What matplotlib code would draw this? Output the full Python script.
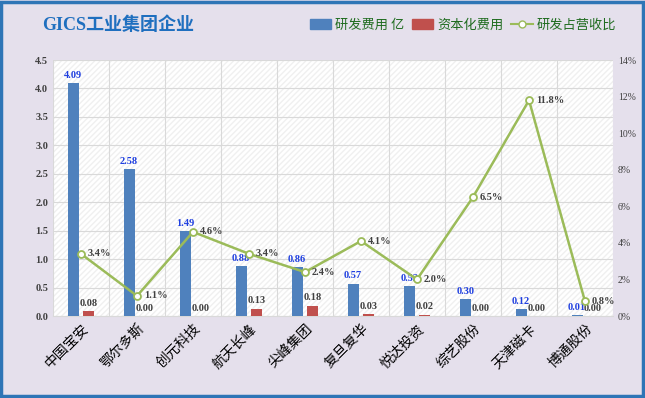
import numpy as np
import matplotlib.pyplot as plt
from matplotlib.patches import Rectangle
from matplotlib.lines import Line2D

plt.rcParams['font.family'] = ['Liberation Serif', 'Noto Sans CJK SC', 'DejaVu Sans']

companies = ['中国宝安', '鄂尔多斯', '创元科技', '航天长峰', '尖峰集团',
             '复旦复华', '悦达投资', '综艺股份', '天津磁卡', '博通股份']
rd_cost = [4.09, 2.58, 1.49, 0.88, 0.86, 0.57, 0.52, 0.30, 0.12, 0.01]
cap_cost = [0.08, 0.00, 0.00, 0.13, 0.18, 0.03, 0.02, 0.00, 0.00, 0.00]
rd_ratio = [3.4, 1.1, 4.6, 3.4, 2.4, 4.1, 2.0, 6.5, 11.8, 0.8]

BLUE = '#4F81BD'
RED = '#C0504D'
GREEN = '#9BBB59'
BG = '#E5E0EC'

fig = plt.figure(figsize=(6.45, 3.98), dpi=100, facecolor=BG)
fig.patches.append(Rectangle((0.002, 0.004), 0.995, 0.99, transform=fig.transFigure,
                             fill=False, edgecolor='#2E75B6', linewidth=2.5))

ax = fig.add_axes([53 / 645, 1 - 316 / 398, 560 / 645, 256 / 398])
ax.set_facecolor('white')
# faint diagonal hatch on the plot area
ax.add_patch(Rectangle((0, 0), 1, 1, transform=ax.transAxes, facecolor='none',
                       edgecolor='#F0F0F0', hatch='//////', linewidth=0, zorder=0))

x = np.arange(len(companies))
w = 0.2
ax.bar(x - 0.14, rd_cost, w, color=BLUE, zorder=3)
ax.bar(x + 0.14, cap_cost, w, color=RED, zorder=3)

for i in range(len(x)):
    ax.text(x[i] - 0.14, rd_cost[i] + 0.06, f'{rd_cost[i]:.2f}', ha='center', va='bottom',
            color='#1F3FE0', fontsize=7.5, fontweight='bold', zorder=5)
    ax.text(x[i] + 0.14, cap_cost[i] + 0.06, f'{cap_cost[i]:.2f}', ha='center', va='bottom',
            color='#404040', fontsize=7.5, fontweight='bold', zorder=5)

ax.set_xlim(-0.5, len(companies) - 0.5)
ax.set_ylim(0, 4.5)
ax.set_yticks(np.arange(0, 4.51, 0.5))
ax.set_yticklabels([f'{v:.1f}' for v in np.arange(0, 4.51, 0.5)])
ax.set_xticks(x)
ax.set_xticklabels(companies, rotation=45, ha='right', rotation_mode='anchor',
                   family=['Noto Sans CJK SC'], fontsize=10, color='black')
ax.set_xticks(np.arange(-0.5, len(companies), 1), minor=True)
ax.grid(axis='y', color='#D9D9D9', linewidth=0.8, zorder=1)
ax.grid(axis='x', which='minor', color='#D9D9D9', linewidth=0.8, zorder=1)
ax.tick_params(axis='y', length=0, labelsize=7.5, colors='#404040')
ax.tick_params(axis='x', length=0, pad=4)
ax.tick_params(axis='x', which='minor', length=0)
for lbl in ax.get_yticklabels():
    lbl.set_fontweight('bold')
for s in ax.spines.values():
    s.set_visible(False)
ax.spines['bottom'].set_visible(True)
ax.spines['bottom'].set_color('#D9D9D9')

ax2 = ax.twinx()
ax2.plot(x, rd_ratio, color=GREEN, linewidth=1.8, marker='o', markersize=5,
         markerfacecolor='white', markeredgecolor=GREEN, markeredgewidth=1.3, zorder=4)
for i in range(len(x)):
    ax2.text(x[i] + 0.12, rd_ratio[i], f'{rd_ratio[i]:.1f}%', ha='left', va='center',
             color='#404040', fontsize=7.5, fontweight='bold', zorder=5)
ax2.set_ylim(0, 14)
ax2.set_yticks(np.arange(0, 15, 2))
ax2.set_yticklabels([f'{v}%' for v in range(0, 15, 2)])
ax2.tick_params(axis='y', length=0, labelsize=7, colors='#404040')
for s in ax2.spines.values():
    s.set_visible(False)

fig.text(42 / 645, 1 - 25 / 398, 'GICS工业集团企业', color='#1F6FBF', fontsize=13,
         fontweight='bold', va='center', family=['Liberation Serif', 'Noto Sans CJK SC'])

handles = [Rectangle((0, 0), 1, 1, color=BLUE), Rectangle((0, 0), 1, 1, color=RED),
           Line2D([], [], color=GREEN, marker='o', markerfacecolor='white', markersize=5)]
leg = fig.legend(handles, ['研发费用 亿', '资本化费用', '研发占营收比'], loc='center right',
                 bbox_to_anchor=(616 / 645, 1 - 25 / 398), ncol=3, frameon=False,
                 prop={'family': 'Noto Sans CJK SC', 'size': 9.5}, handlelength=1.6,
                 handletextpad=0.3, columnspacing=0.6, borderpad=0, borderaxespad=0)
for t in leg.get_texts():
    t.set_color('#1E6B1E')

fig.savefig('out.png', dpi=100, facecolor=BG)
